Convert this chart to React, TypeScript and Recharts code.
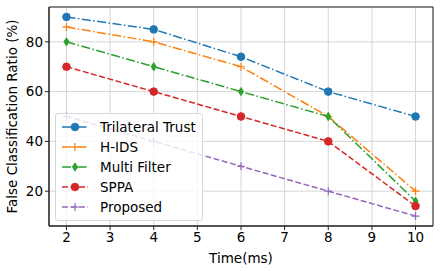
import React from 'react';
import {
  LineChart,
  Line,
  XAxis,
  YAxis,
  CartesianGrid,
  Legend,
  ReferenceArea,
} from 'recharts';

const times = [2, 4, 6, 8, 10];
const trilateral = [90, 85, 74, 60, 50];
const hids = [86, 80, 70, 50, 20];
const multiFilter = [80, 70, 60, 50, 16];
const sppa = [70, 60, 50, 40, 14];
const proposed = [50, 40, 30, 20, 10];

const xTicks = [2, 3, 4, 5, 6, 7, 8, 9, 10];
const yTicks = [20, 40, 60, 80];

const DASH_DOT = '9 2.5 1.5 2.5';
const DASHED = '6 2.5';

const SERIES = [
  { key: 'tri', name: 'Trilateral Trust', color: '#1f77b4', dash: DASH_DOT, marker: 'circle' },
  { key: 'hids', name: 'H-IDS', color: '#ff7f0e', dash: DASH_DOT, marker: 'plus' },
  { key: 'multi', name: 'Multi Filter', color: '#2ca02c', dash: DASH_DOT, marker: 'diamond' },
  { key: 'sppa', name: 'SPPA', color: '#d62728', dash: DASHED, marker: 'circle' },
  { key: 'prop', name: 'Proposed', color: '#9467bd', dash: DASHED, marker: 'plus' },
];

const data = times.map((t, i) => ({
  time: t,
  tri: trilateral[i],
  hids: hids[i],
  multi: multiFilter[i],
  sppa: sppa[i],
  prop: proposed[i],
}));

const FONT = '"DejaVu Sans", sans-serif';
const FS = 13.5;

const Marker = ({ cx, cy, shape, color }: { cx: number; cy: number; shape: string; color: string }) => {
  if (shape === 'circle') return <circle cx={cx} cy={cy} r={3.8} fill={color} stroke={color} />;
  if (shape === 'plus')
    return (
      <path
        d={`M${cx - 4},${cy}H${cx + 4}M${cx},${cy - 4}V${cy + 4}`}
        stroke={color}
        strokeWidth={1.2}
        fill="none"
      />
    );
  return (
    <path
      d={`M${cx},${cy - 4.2}L${cx + 2.6},${cy}L${cx},${cy + 4.2}L${cx - 2.6},${cy}Z`}
      fill={color}
      stroke={color}
      strokeWidth={0.8}
    />
  );
};

const dotFor = (shape: string, color: string) => (props: any) => (
  <Marker key={`${props.dataKey}-${props.index}`} cx={props.cx} cy={props.cy} shape={shape} color={color} />
);

const LegendBox = () => (
  <div
    style={{
      width: 146,
      height: 103,
      border: '1px solid #d8d8d8',
      borderRadius: 3,
      background: 'rgba(255,255,255,0.8)',
      fontFamily: FONT,
      fontSize: FS,
      color: '#000',
      paddingTop: 3,
      boxSizing: 'content-box',
      whiteSpace: 'nowrap',
    }}
  >
    {SERIES.map((s) => (
      <div key={s.key} style={{ display: 'flex', alignItems: 'center', height: 20 }}>
        <svg width={44} height={20} style={{ flex: 'none' }}>
          <line x1={6} y1={10} x2={32} y2={10} stroke={s.color} strokeWidth={1.5} strokeDasharray={s.dash} />
          <Marker cx={19} cy={10} shape={s.marker} color={s.color} />
        </svg>
        <span>{s.name}</span>
      </div>
    ))}
  </div>
);

export default function App() {
  return (
    <div style={{ position: 'absolute', left: 0, top: 0, background: '#fff' }}>
      <LineChart width={441} height={271} data={data} margin={{ top: 7, right: 8, bottom: 0, left: 0 }}>
        <CartesianGrid stroke="#d6d6d6" strokeWidth={1} />
        <XAxis
          dataKey="time"
          type="number"
          domain={[1.6, 10.4]}
          ticks={xTicks}
          allowDataOverflow
          height={45}
          tickSize={4}
          tickMargin={2}
          axisLine={{ stroke: '#222' }}
          tickLine={{ stroke: '#222' }}
          tick={{ fill: '#000', fontSize: FS, fontFamily: FONT }}
          label={{ value: 'Time(ms)', position: 'insideBottom', offset: 8, fill: '#000', fontSize: FS, fontFamily: FONT }}
        />
        <YAxis
          type="number"
          domain={[6, 94]}
          ticks={yTicks}
          allowDataOverflow
          width={49}
          tickSize={4}
          tickMargin={2}
          axisLine={{ stroke: '#222' }}
          tickLine={{ stroke: '#222' }}
          tick={{ fill: '#000', fontSize: FS, fontFamily: FONT }}
          label={{
            value: 'False Classification Ratio (%)',
            angle: -90,
            position: 'insideLeft',
            offset: 12,
            fill: '#000',
            fontSize: FS,
            fontFamily: FONT,
            style: { textAnchor: 'middle' },
          }}
        />
        <ReferenceArea x1={1.6} x2={10.4} y1={6} y2={94} fill="none" stroke="#222" strokeWidth={1} ifOverflow="visible" />
        {SERIES.map((s) => (
          <Line
            key={s.key}
            dataKey={s.key}
            name={s.name}
            stroke={s.color}
            strokeWidth={1.5}
            strokeDasharray={s.dash}
            dot={dotFor(s.marker, s.color)}
            activeDot={false}
            isAnimationActive={false}
            type="linear"
          />
        ))}
        <Legend
          layout="vertical"
          align="center"
          verticalAlign="middle"
          wrapperStyle={{ left: 55, top: 113, width: 'auto' }}
          content={() => <LegendBox />}
        />
      </LineChart>
    </div>
  );
}
